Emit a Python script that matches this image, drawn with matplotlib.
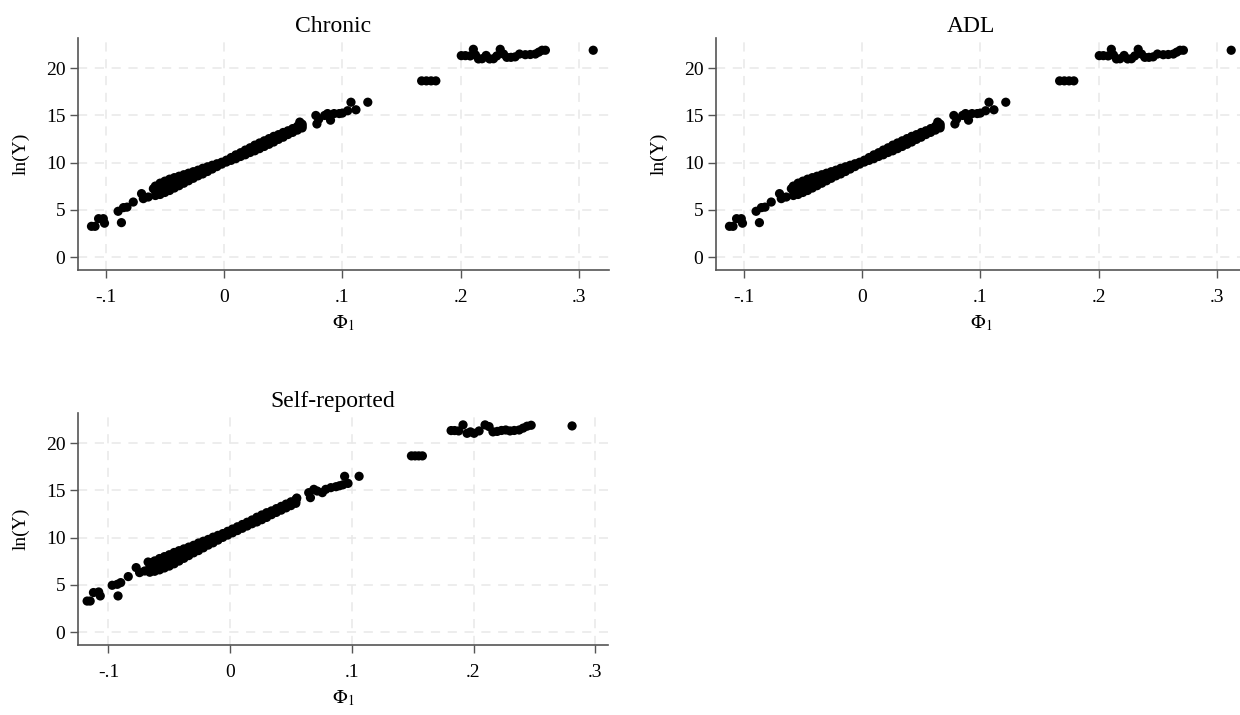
import matplotlib
matplotlib.use('Agg')
import matplotlib.pyplot as plt

plt.rcParams['font.family'] = ['Liberation Serif', 'DejaVu Serif']
plt.rcParams['mathtext.fontset'] = 'stix'

# --- Chronic (ADL panel shows the same points) ---
chronic_low_x = [-0.112, -0.109, -0.106, -0.102, -0.101, -0.0895, -0.0867, -0.085,
                 -0.082, -0.0767, -0.0697, -0.0682, -0.064, -0.0597]
chronic_low_y = [3.27, 3.27, 4.08, 4.08, 3.6, 4.86, 3.66, 5.25,
                 5.3, 5.84, 6.73, 6.2, 6.37, 7.25]

chronic_band_x = [-0.058, -0.054, -0.050, -0.046, -0.042, -0.038, -0.034, -0.030,
                  -0.026, -0.022, -0.018, -0.014, -0.010, -0.006, -0.002, 0.002,
                  0.006, 0.010, 0.014, 0.018, 0.022, 0.026, 0.030, 0.034,
                  0.038, 0.042, 0.046, 0.050, 0.054, 0.058, 0.062, 0.066]
chronic_band_hi = [7.53, 7.84, 8.05, 8.26, 8.42, 8.57, 8.73, 8.89,
                   9.05, 9.21, 9.41, 9.57, 9.73, 9.89, 10.05, 10.27,
                   10.55, 10.83, 11.06, 11.34, 11.58, 11.86, 12.09, 12.32,
                   12.55, 12.79, 12.97, 13.20, 13.38, 13.61, 13.85, 14.08]
chronic_band_mid = [7.03, 7.24, 7.45, 7.66, 7.87, 8.07, 8.28, 8.49,
                    8.70, 8.91, 9.11, 9.32, 9.53, 9.74, 9.95, 10.17,
                    10.40, 10.63, 10.86, 11.09, 11.33, 11.56, 11.79, 12.02,
                    12.25, 12.49, 12.72, 12.95, 13.18, 13.41, 13.65, 13.88]
chronic_band_lo = [6.53, 6.64, 6.85, 7.06, 7.32, 7.57, 7.83, 8.09,
                   8.35, 8.61, 8.81, 9.07, 9.33, 9.59, 9.85, 10.07,
                   10.25, 10.43, 10.66, 10.84, 11.08, 11.26, 11.49, 11.72,
                   11.95, 12.19, 12.47, 12.70, 12.98, 13.21, 13.45, 13.68]

chronic_high_x = [0.064, 0.0776, 0.0785, 0.080, 0.085, 0.0875, 0.090, 0.093,
                  0.0974, 0.100, 0.1045, 0.1073, 0.1115, 0.1215,
                  0.167, 0.171, 0.175, 0.179,
                  0.2005, 0.204, 0.208, 0.2107, 0.2125, 0.215, 0.218, 0.2215,
                  0.2245, 0.2277, 0.2305, 0.2334, 0.2362, 0.239, 0.2425, 0.246,
                  0.2497, 0.2546, 0.2588, 0.2631, 0.266, 0.2688, 0.2716, 0.312]
chronic_high_y = [14.3, 15.0, 14.1, 14.6, 15.0, 15.2, 14.5, 15.2,
                  15.2, 15.25, 15.5, 16.4, 15.6, 16.4,
                  18.66, 18.66, 18.66, 18.66,
                  21.33, 21.33, 21.3, 22.0, 21.4, 20.98, 21.0, 21.35,
                  20.98, 21.0, 21.3, 22.0, 21.5, 21.15, 21.15, 21.2,
                  21.5, 21.43, 21.45, 21.5, 21.7, 21.9, 21.9, 21.9]

# --- Self-reported ---
selfrep_low_x = [-0.1175, -0.115, -0.1123, -0.108, -0.1067, -0.0969, -0.0927, -0.0921,
                 -0.0899, -0.0837, -0.0772, -0.0744, -0.0702, -0.0674]
selfrep_low_y = [3.3, 3.3, 4.2, 4.26, 3.84, 4.97, 5.07, 3.84,
                 5.25, 5.89, 6.84, 6.31, 6.48, 7.43]

selfrep_band_x = [-0.066, -0.062, -0.058, -0.054, -0.050, -0.046, -0.042, -0.038,
                  -0.034, -0.030, -0.026, -0.022, -0.018, -0.014, -0.010, -0.006,
                  -0.002, 0.002, 0.006, 0.010, 0.014, 0.018, 0.022, 0.026,
                  0.030, 0.034, 0.038, 0.042, 0.046, 0.050, 0.054]
selfrep_band_hi = [7.35, 7.55, 7.80, 8.00, 8.20, 8.44, 8.63, 8.82,
                   9.01, 9.20, 9.44, 9.63, 9.82, 10.06, 10.25, 10.44,
                   10.68, 10.92, 11.16, 11.40, 11.64, 11.88, 12.17, 12.41,
                   12.65, 12.84, 13.08, 13.32, 13.56, 13.80, 14.04]
selfrep_band_mid = [6.85, 7.00, 7.20, 7.40, 7.60, 7.84, 8.08, 8.32,
                    8.56, 8.80, 9.04, 9.28, 9.52, 9.76, 10.00, 10.24,
                    10.48, 10.72, 10.96, 11.20, 11.44, 11.68, 11.92, 12.16,
                    12.40, 12.64, 12.88, 13.12, 13.36, 13.60, 13.84]
selfrep_band_lo = [6.35, 6.45, 6.60, 6.80, 7.00, 7.24, 7.53, 7.82,
                   8.11, 8.40, 8.64, 8.93, 9.22, 9.46, 9.75, 10.04,
                   10.28, 10.52, 10.76, 11.00, 11.24, 11.48, 11.67, 11.91,
                   12.15, 12.44, 12.68, 12.92, 13.16, 13.40, 13.64]

selfrep_high_x = [0.0548, 0.0646, 0.066, 0.0688, 0.0716, 0.0758, 0.0786, 0.0828,
                  0.087, 0.0899, 0.0927, 0.0941, 0.0969, 0.106,
                  0.149, 0.152, 0.155, 0.158,
                  0.1816, 0.1845, 0.1878, 0.1914, 0.1947, 0.1975, 0.2005, 0.2046,
                  0.2095, 0.2128, 0.2160, 0.2195, 0.2230, 0.2265, 0.2300, 0.2335,
                  0.2375, 0.2408, 0.2440, 0.2474, 0.281]
selfrep_high_y = [14.2, 14.77, 14.24, 15.12, 14.94, 14.77, 15.12, 15.3,
                  15.4, 15.5, 15.6, 16.5, 15.75, 16.5,
                  18.66, 18.66, 18.66, 18.66,
                  21.34, 21.34, 21.3, 21.94, 21.05, 21.2, 21.05, 21.3,
                  21.94, 21.76, 21.2, 21.25, 21.35, 21.4, 21.3, 21.35,
                  21.4, 21.6, 21.8, 21.9, 21.83]

chronic = (chronic_low_x, chronic_low_y, chronic_band_x,
           [chronic_band_hi, chronic_band_mid, chronic_band_lo],
           chronic_high_x, chronic_high_y)
selfrep = (selfrep_low_x, selfrep_low_y, selfrep_band_x,
           [selfrep_band_hi, selfrep_band_mid, selfrep_band_lo],
           selfrep_high_x, selfrep_high_y)

fig = plt.figure(figsize=(12.4, 7.15), dpi=100)

panels = [
    ('Chronic', chronic, [0.0629, 0.6224, 0.4282, 0.3245], (-0.1234, 0.3253)),
    ('ADL', chronic, [0.5774, 0.6224, 0.4282, 0.3245], (-0.1234, 0.3253)),
    ('Self-reported', selfrep, [0.0629, 0.0979, 0.4274, 0.3245], (-0.125, 0.3105)),
]

axis_col = '#555555'
for title, data, pos, xlim in panels:
    ax = fig.add_axes(pos)
    lx, ly, bx, bands, hx, hy = data
    pts_x = list(lx) + list(hx)
    pts_y = list(ly) + list(hy)
    for b in bands:
        pts_x += list(bx)
        pts_y += list(b)
    ax.scatter(pts_x, pts_y, s=44, color='black', edgecolors='none', zorder=3)

    ax.set_xlim(*xlim)
    ax.set_ylim(-1.35, 23.2)
    ax.set_xticks([-0.1, 0, 0.1, 0.2, 0.3])
    ax.set_xticklabels(['-.1', '0', '.1', '.2', '.3'])
    ax.set_yticks([0, 5, 10, 15, 20])
    ax.grid(True, color='#e8e8e8', linestyle=(0, (6, 5)), linewidth=1.1)
    ax.set_axisbelow(True)
    for s in ['top', 'right']:
        ax.spines[s].set_visible(False)
    for s in ['left', 'bottom']:
        ax.spines[s].set_color(axis_col)
        ax.spines[s].set_linewidth(1.2)
    ax.tick_params(direction='out', length=6, width=1, color=axis_col,
                   labelsize=14)
    ax.tick_params(axis='x', pad=8)
    ax.tick_params(axis='y', pad=3)
    ax.set_ylabel('ln(Y)', fontsize=14, labelpad=12)
    ax.set_xlabel(r'$\Phi_1$', fontsize=14, labelpad=5)
    ax.set_title(title, fontsize=17, x=0.48, pad=4)

fig.savefig('out.png', dpi=100)
